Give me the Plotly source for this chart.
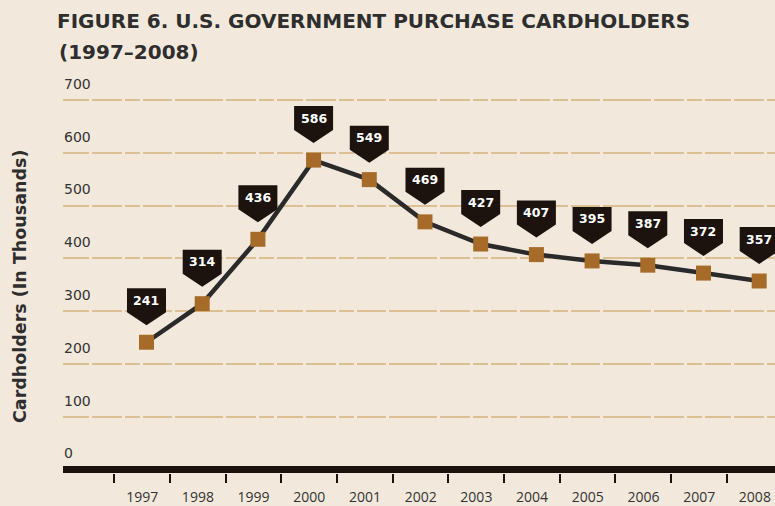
import plotly.graph_objects as go

years = [1997, 1998, 1999, 2000, 2001, 2002, 2003, 2004, 2005, 2006, 2007, 2008]
cardholders = [241, 314, 436, 586, 549, 469, 427, 407, 395, 387, 372, 357]
y_ticks = [0, 100, 200, 300, 400, 500, 600, 700]
year_labels = [str(y) for y in years]

BG = "#f2e9dc"
DARK = "#1c130f"
MARKER = "#a66b28"
GRID = "#dcbf93"

fig = go.Figure()
fig.add_trace(go.Scatter(
    x=years, y=cardholders, mode="lines+markers",
    line=dict(color="#2a2a2a", width=4.5),
    marker=dict(symbol="square", size=15, color=MARKER, line=dict(width=0)),
    hoverinfo="x+y", showlegend=False, cliponaxis=False,
))

# callout pentagons (pixel offsets relative to each data point)
hw, tip, sh, top = 19.5, 17, 30, 54
path = f"M 0,{tip} L {hw},{sh} L {hw},{top} L {-hw},{top} L {-hw},{sh} Z"
shapes = []
annotations = []
for x, v in zip(years, cardholders):
    shapes.append(dict(type="path", xref="x", yref="y", xsizemode="pixel", ysizemode="pixel",
                       xanchor=x, yanchor=v, path=path, fillcolor=DARK,
                       line=dict(width=0), layer="above"))
    annotations.append(dict(x=x, y=v, xref="x", yref="y", text=str(v), showarrow=False,
                            yshift=42, font=dict(family="DejaVu Sans", size=12.5, color="white", weight="bold")))

PLOT_TOP, PLOT_BOT, PLOT_W = 66, 473, 712
PLOT_H = PLOT_BOT - PLOT_TOP
annotations.append(dict(text="(1997–2008)", xref="paper", yref="paper", x=(57 - 63) / PLOT_W,
                        y=(PLOT_BOT - 52) / PLOT_H, xanchor="left", yanchor="middle", showarrow=False,
                        font=dict(family="DejaVu Sans", size=20, color="#2e2e2e", weight="bold")))
annotations.append(dict(text="Cardholders (In Thousands)", xref="paper", yref="paper",
                        x=(20 - 63) / PLOT_W, y=(PLOT_BOT - 287) / PLOT_H, textangle=-90,
                        xanchor="center", yanchor="middle", showarrow=False,
                        font=dict(family="DejaVu Sans", size=17.5, color="#2e2e2e", weight="bold")))

fig.update_layout(
    width=775, height=506,
    paper_bgcolor=BG, plot_bgcolor=BG,
    margin=dict(l=63, r=0, t=PLOT_TOP, b=506 - PLOT_BOT),
    title=dict(text="FIGURE 6. U.S. GOVERNMENT PURCHASE CARDHOLDERS",
               x=57 / 775, xanchor="left", xref="container",
               y=1 - 21 / 506, yanchor="middle", yref="container",
               font=dict(family="DejaVu Sans", size=20, color="#2e2e2e", weight="bold")),
    shapes=shapes,
    annotations=annotations,
    xaxis=dict(
        range=[1995.501, 2008.284], showgrid=False, zeroline=False, showline=False,
        tickvals=[y - 0.58 for y in years], ticktext=year_labels,
        ticks="outside", ticklen=9, tickwidth=2, tickcolor=DARK,
        ticklabelshift=28, ticklabelstandoff=2,
        tickfont=dict(family="Open Sans", size=14, color="#333333"),
    ),
    yaxis=dict(
        range=[-6.63, -6.63 + PLOT_H / 0.528], tickvals=y_ticks, ticktext=[str(t) for t in y_ticks],
        showgrid=True, gridcolor=GRID, gridwidth=2,
        griddash="26px,3px,30px,3px,15px,3px,29px,3px,48px,3px,30px,3px,15px,3px",
        zeroline=True, zerolinecolor=DARK, zerolinewidth=7,
        showline=False, ticks="",
        ticklabelposition="inside", ticklabelshift=-16, ticklabelstandoff=-2,
        tickfont=dict(family="DejaVu Sans", size=14, color="#333333"),
    ),
)

fig.write_html("out.html", config={"displayModeBar": False},
               post_script="document.body.style.margin='0';")
